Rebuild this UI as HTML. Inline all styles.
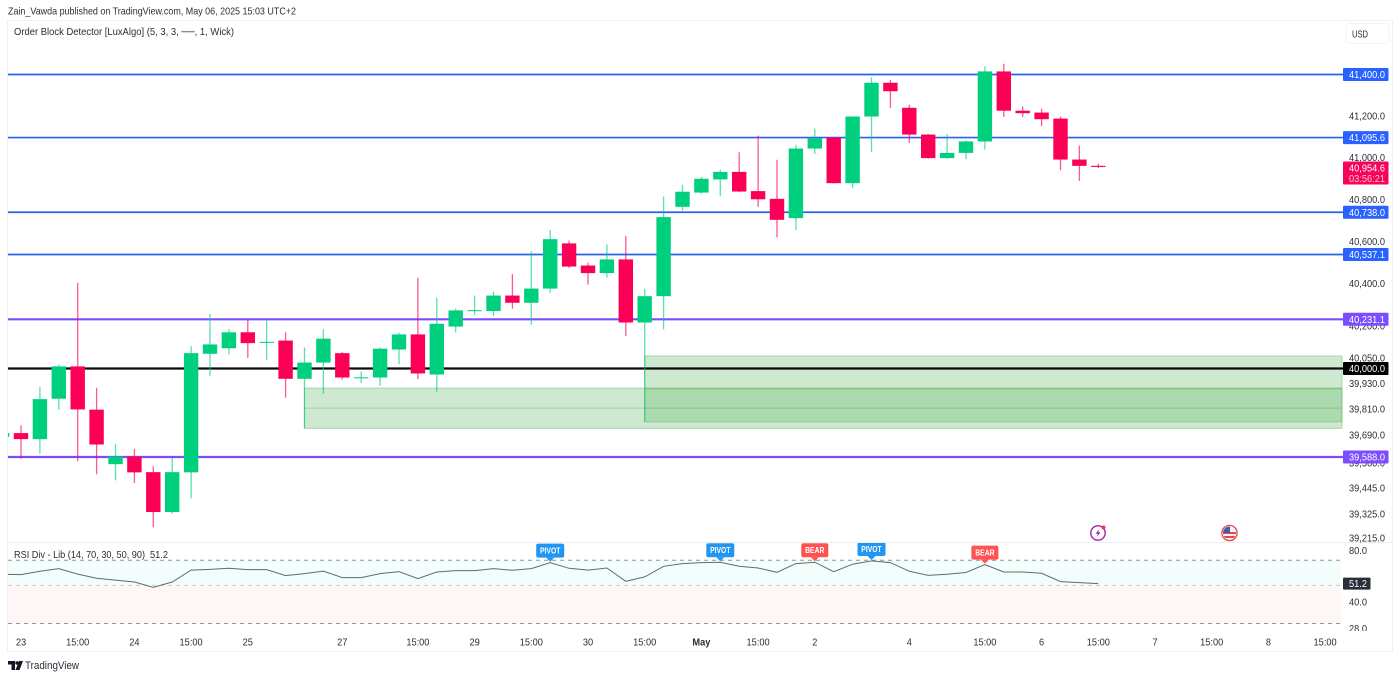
<!DOCTYPE html>
<html lang="en">
<head>
<meta charset="utf-8">
<title>Dow Jones order block chart</title>
<style>
html,body{margin:0;padding:0;background:#fff;width:1400px;height:679px;overflow:hidden}
svg{display:block}
text{font-family:"Liberation Sans",sans-serif;font-size:10.5px;fill:#2a2e39}
</style>
</head>
<body>
<svg id="chart" xmlns="http://www.w3.org/2000/svg" width="1400" height="679" viewBox="0 0 1400 679">
  <defs>
    <clipPath id="price-clip"><rect x="8" y="21" width="1335" height="521"/></clipPath>
    <clipPath id="rsi-clip"><rect x="8" y="543" width="1335" height="88"/></clipPath>
    <clipPath id="rsi-axis-clip"><rect x="1343" y="543" width="49" height="88"/></clipPath>
    <clipPath id="flag-clip"><circle cx="1229.5" cy="533" r="6.5"/></clipPath>
  </defs>
  <rect x="7.5" y="20.5" width="1385" height="631" fill="#fff" stroke="#eff1f5"/>
  <line x1="8" x2="1392" y1="542.5" y2="542.5" stroke="#eceef2"/>
  <text x="8" y="14.5" textLength="288" lengthAdjust="spacingAndGlyphs">Zain_Vawda published on TradingView.com, May 06, 2025 15:03 UTC+2</text>
  <text x="14" y="35" textLength="220" lengthAdjust="spacingAndGlyphs">Order Block Detector [LuxAlgo] (5, 3, 3, ──, 1, Wick)</text>
  <text x="14" y="558" textLength="131" lengthAdjust="spacingAndGlyphs">RSI Div - Lib (14, 70, 30, 50, 90)</text>
  <text x="150" y="558" textLength="18" lengthAdjust="spacingAndGlyphs">51.2</text>
  <g>
    <rect x="1346" y="23.5" width="43" height="20" rx="4" fill="#fff" stroke="#f2f3f6"/>
    <text x="1352" y="37.5" textLength="16" lengthAdjust="spacingAndGlyphs">USD</text>
  </g>
  <g id="rsi-bg"></g>
  <g id="blocks" clip-path="url(#price-clip)"></g>
  <g id="levels"></g>
  <g id="candles" clip-path="url(#price-clip)"></g>
  <g id="rsi" clip-path="url(#rsi-clip)"></g>
  <g id="markers" clip-path="url(#rsi-clip)"></g>
  <g id="price-axis"></g>
  <g id="rsi-axis" clip-path="url(#rsi-axis-clip)"></g>
  <g id="time-axis"></g>
  <g>
    <circle cx="1098" cy="533" r="7.2" fill="#fff" stroke="#9c27b0" stroke-width="1.4"/>
    <polygon points="1099.5,529 1095.5,533.8 1098,533.8 1096.6,537 1100.6,532.2 1098.2,532.2" fill="#9c27b0"/>
    <circle cx="1103.5" cy="527.5" r="2" fill="#f23645"/>
  </g>
  <g>
    <circle cx="1229.5" cy="533" r="7.6" fill="#fff" stroke="#e5484d" stroke-width="1.3"/>
    <g clip-path="url(#flag-clip)">
      <rect x="1222" y="526" width="16" height="14" fill="#f4f4f6"/>
      <rect x="1222" y="532" width="16" height="2" fill="#e5484d"/>
      <rect x="1222" y="536" width="16" height="2" fill="#e5484d"/>
      <rect x="1222" y="526" width="8" height="7" fill="#3f5fa8"/>
    </g>
  </g>
  <g>
    <polygon points="8,661 15,661 15,670 11.5,670 11.5,664.5 8,664.5" fill="#131722"/>
    <circle cx="17" cy="663" r="1.7" fill="#131722"/>
    <polygon points="19,661 23,661 19.5,670 15.5,670" fill="#131722"/>
    <text x="25" y="669" style="font-size:11px" textLength="54" lengthAdjust="spacingAndGlyphs">TradingView</text>
  </g>
</svg>
<script>
// Candle values (USD), one entry per session bar; the first bar is cut off by the left edge.
const opens = [
  39682,39699,39671,39859,40010,39808,39555,39590,39518,39334,
  39517,40069,40095,40170,40122,40131,39952,40028,40072,39957,
  39958,40089,40160,39972,40197,40272,40270,40343,40309,40376,
  40590,40485,40449,40514,40216,40340,40764,40832,40895,40931,
  40839,40802,40710,41043,41095,40877,41197,41360,41239,41110,
  40997,41022,41077,41415,41225,41216,41187,40990,40960
];
const highs = [
  39705,39735,39913,40018,40403,39910,39650,39626,39545,39583,
  40105,40257,40185,40232,40225,40170,40099,40185,40077,39986,
  40098,40169,40427,40332,40281,40343,40361,40444,40553,40654,
  40604,40499,40585,40626,40375,40813,40869,40907,40942,41025,
  41105,40989,41061,41139,41098,41198,41387,41374,41254,41113,
  41113,41082,41440,41452,41245,41234,41197,41057,40970
];
const lows = [
  39675,39580,39603,39808,39569,39508,39480,39468,39264,39327,
  39397,39966,40066,40050,40041,39864,39721,39882,39948,39932,
  39919,40019,39950,39890,40169,40252,40246,40281,40205,40356,
  40474,40395,40428,40152,39751,40183,40746,40826,40815,40835,
  40764,40619,40654,41016,40875,40853,41027,41239,41070,40994,
  40995,40992,41038,41195,41195,41150,40939,40888,40949
];
const closes = [
  39699,39671,39857,40010,39809,39646,39590,39517,39334,39518,
  40072,40113,40170,40119,40125,39952,40028,40140,39958,39959,
  40093,40160,39977,40210,40273,40274,40343,40309,40376,40610,
  40480,40449,40514,40216,40340,40715,40836,40898,40931,40837,
  40800,40702,41043,41091,40877,41197,41360,41319,41110,40997,
  41022,41077,41415,41225,41213,41184,40990,40960,40954.6
];
// RSI reading for each bar.
const rsiValues = [
  58,57.8,60.4,62.6,58.2,55,53.7,52.3,48.7,52.3,
  61.4,62,62.9,61.8,61.8,57,58.6,60.6,55.5,55.5,
  58.6,60.2,54.8,59.8,61,61,62.6,61.2,62.6,67.9,
  62.9,61.4,63.1,52.8,56,64.6,67,67.9,68.2,64.6,
  63.1,59.6,67,68.2,60.1,66.4,69.4,67.9,60.4,57.2,
  58,59.4,66.1,59.8,59.8,58.8,52.6,51.9,51.2
];
// Horizontal levels.
const levelPrices = [41400, 41095.6, 40738, 40537.1, 40231.1, 40000, 39588];
const levelKinds = ['blue','blue','blue','blue','purple','black','purple'];
// Order blocks: first bar, upper and lower price.
const blockBars = [16, 34];
const blockTops = [39909, 40059];
const blockBottoms = [39721, 39751];
// Axis ticks.
const priceTicks = [41200,41000,40800,40600,40400,40200,40050,39930,39810,39690,39560,39445,39325,39215];
const rsiTicks = [80, 40, 28];
const rsiBands = [70, 50, 30];
const timeBars = [1,4,7,10,13,18,22,25,28,31,34,37,40,43,48,52,55,58,61,64,67,70];
const timeLabels = ['23','15:00','24','15:00','25','27','15:00','29','15:00','30','15:00','May','15:00','2','4','15:00','6','15:00','7','15:00','8','15:00'];
// RSI chart markers.
const markerBars = [29, 38, 43, 46, 52];
const markerTexts = ['PIVOT','PIVOT','BEAR','PIVOT','BEAR'];
const countdownText = '03:56:21';

const NS = 'http://www.w3.org/2000/svg';
const GREEN = '#00d07e', RED = '#fb0056';
const LEVEL_COLORS = {blue:'#2962e8', purple:'#7c4dff', black:'#0b0b0b'};
const LABEL_COLORS = {blue:'#2962ff', purple:'#7c4dff', black:'#000000'};

function priceY(p){ return 74.5 + 8547 * Math.log(41400 / p); }
function rsiY(v){ return 560.3 + 74.6 * Math.log(70 / v); }
function barX(i){ return 2.1 + 18.9 * i; }
function fmt(p){ return p.toLocaleString('en-US',{minimumFractionDigits:1,maximumFractionDigits:1}); }

function mk(tag, attrs, parent){
  const el = document.createElementNS(NS, tag);
  for (const k in attrs) el.setAttribute(k, attrs[k]);
  parent.appendChild(el);
  return el;
}
function squeeze(t, factor){
  t.setAttribute('textLength', (t.getComputedTextLength() * factor).toFixed(1));
  t.setAttribute('lengthAdjust', 'spacingAndGlyphs');
}

// RSI background and band lines
const rsiBg = document.getElementById('rsi-bg');
const upperBand = mk('rect',{x:8,y:rsiY(rsiBands[0]),width:1333,height:rsiY(rsiBands[1])-rsiY(rsiBands[0]),fill:'#f3fdfb'},rsiBg);


const lowerBand = mk('rect',{x:8,y:rsiY(rsiBands[1]),width:1333,height:rsiY(rsiBands[2])-rsiY(rsiBands[1]),fill:'#fff7f6'},rsiBg);


rsiBands.forEach(function(v, i){
  const l = mk('line',{x1:8,x2:1341,y1:rsiY(v),y2:rsiY(v),stroke:i===1?'#c9cbd0':'#8f939c','stroke-width':1,'stroke-dasharray':'4 4'},rsiBg);
  
  
});

// Order blocks
const blocksG = document.getElementById('blocks');
blockBars.forEach(function(bar, i){
  const x = barX(bar), top = priceY(blockTops[i]), bottom = priceY(blockBottoms[i]);
  const r = mk('rect',{x:x,y:top,width:1342-x,height:bottom-top,fill:'#4caf50','fill-opacity':0.27,stroke:'#4caf50','stroke-opacity':0.4,'stroke-width':1},blocksG);
  
  
  const mid = (top + bottom) / 2;
  const m = mk('line',{x1:x,x2:1342,y1:mid,y2:mid,stroke:'#4caf50','stroke-opacity':0.4,'stroke-width':1},blocksG);
  
  
});

// Level lines
const levelsG = document.getElementById('levels');
levelPrices.forEach(function(p, i){
  const kind = levelKinds[i];
  const l = mk('line',{x1:8,x2:1343,y1:priceY(p),y2:priceY(p),stroke:LEVEL_COLORS[kind],'stroke-width':kind==='blue'?1.7:2.2},levelsG);
  
  
});

// Candles
const candlesG = document.getElementById('candles');
opens.forEach(function(o, i){
  const c = closes[i], color = c >= o ? GREEN : RED, x = barX(i);
  const g = mk('g',{},candlesG);
  
  
  const wick = mk('line',{x1:x,x2:x,y1:priceY(highs[i]),y2:priceY(lows[i]),stroke:color,'stroke-width':1.3,'stroke-opacity':0.65},g);
  
  
  const top = Math.min(priceY(o), priceY(c));
  const h = Math.max(1, Math.abs(priceY(o) - priceY(c)));
  const body = mk('rect',{x:x-7.2,y:top,width:14.4,height:h,fill:color},g);
  
  
});

// RSI line
const rsiG = document.getElementById('rsi');
const rsiLine = mk('polyline',{points:rsiValues.map(function(v,i){return barX(i).toFixed(1)+','+rsiY(v).toFixed(1);}).join(' '),fill:'none',stroke:'#5f6e6a','stroke-width':1},rsiG);



// RSI markers
const markersG = document.getElementById('markers');
markerBars.forEach(function(bar, i){
  const x = barX(bar), tip = rsiY(rsiValues[bar]) - 1, bottom = tip - 4, word = markerTexts[i];
  const color = word === 'BEAR' ? '#ff5252' : '#2196f3';
  const half = word === 'BEAR' ? 13.5 : 14;
  const g = mk('g',{},markersG);
  
  
  const box = mk('rect',{x:x-half,y:bottom-14,width:half*2,height:14,rx:2,fill:color},g);
  
  
  const arrow = mk('polygon',{points:(x-4)+','+bottom+' '+(x+4)+','+bottom+' '+x+','+tip,fill:color},g);
  
  
  const t = mk('text',{x:x,y:bottom-4,'text-anchor':'middle',style:'font-size:8.5px;font-weight:bold;fill:#fff'},g);
  t.textContent = word;
  
  
  squeeze(t, 0.8);
});

// Price axis
const priceAxis = document.getElementById('price-axis');
priceTicks.forEach(function(p){
  const t = mk('text',{x:1385,y:priceY(p)+3.5,'text-anchor':'end'},priceAxis);
  t.textContent = fmt(p);
  
  
  squeeze(t, 0.88);
});
levelPrices.forEach(function(p, i){
  const kind = levelKinds[i], y = priceY(p);
  const box = mk('rect',{x:1343,y:y-6.5,width:45.5,height:13,rx:1,fill:LABEL_COLORS[kind]},priceAxis);
  
  
  const t = mk('text',{x:1385,y:y+3.5,'text-anchor':'end',style:'fill:#fff'},priceAxis);
  t.textContent = fmt(p);
  
  
  squeeze(t, 0.88);
});
const lastClose = closes[closes.length - 1];
const lastY = priceY(lastClose);
const lastBox = mk('rect',{x:1343,y:lastY-5.5,width:45.5,height:23,rx:1,fill:'#f7045a'},priceAxis);


const lastText = mk('text',{x:1385,y:lastY+4.5,'text-anchor':'end',style:'fill:#fff'},priceAxis);
lastText.textContent = fmt(lastClose);


squeeze(lastText, 0.88);
const timerText = mk('text',{x:1385,y:lastY+15,'text-anchor':'end',style:'fill:#ffc2d6'},priceAxis);
timerText.textContent = countdownText;


squeeze(timerText, 0.88);

// RSI axis
const rsiAxis = document.getElementById('rsi-axis');
rsiTicks.forEach(function(v){
  const t = mk('text',{x:1349,y:rsiY(v)+3.5},rsiAxis);
  t.textContent = v.toFixed(1);
  
  
  squeeze(t, 0.88);
});
const rsiLast = rsiValues[rsiValues.length - 1];
const rsiTag = mk('rect',{x:1343,y:rsiY(rsiLast)-6,width:27.5,height:12,rx:1,fill:'#2a2e39'},rsiAxis);


const rsiTagText = mk('text',{x:1349,y:rsiY(rsiLast)+3.5,style:'fill:#fff'},rsiAxis);
rsiTagText.textContent = rsiLast.toFixed(1);


squeeze(rsiTagText, 0.88);

// Time axis
const timeAxis = document.getElementById('time-axis');
timeBars.forEach(function(bar, i){
  const word = timeLabels[i];
  const t = mk('text',{x:barX(bar),y:645.5,'text-anchor':'middle',style:word==='May'?'font-weight:bold':''},timeAxis);
  t.textContent = word;
  
  
  squeeze(t, 0.88);
});
</script>
</body>
</html>
